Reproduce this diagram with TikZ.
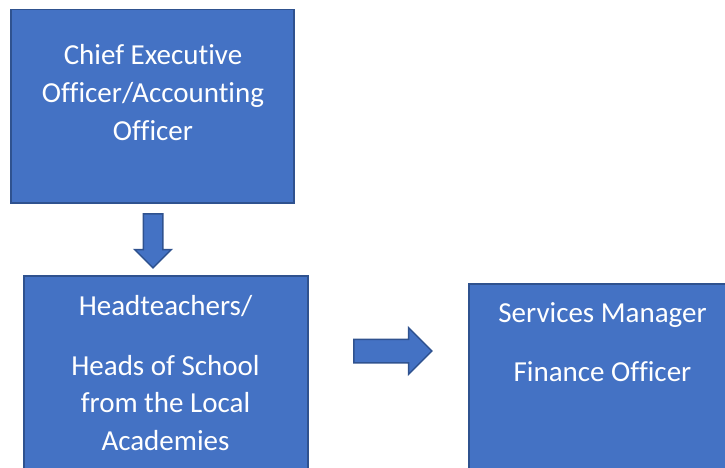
\documentclass[tikz,border=0pt]{standalone}
\usepackage{fontspec}
\setmainfont{Carlito}[Ligatures=NoCommon]
\usepackage{xcolor}
\usepackage{tikz}
\usetikzlibrary{shapes.arrows}
\definecolor{boxblue}{HTML}{4472C4}
\definecolor{edgeblue}{HTML}{2F528F}
\begin{document}
\begin{tikzpicture}[x=1pt, y=-1pt,
    box/.style={rectangle, draw=edgeblue, fill=boxblue, line width=1.5pt, inner sep=0pt, anchor=north west},
    boxtext/.style={text=white, align=center, inner sep=0pt, anchor=base, font=\fontsize{29}{37.5}\selectfont},
    blockarrow/.style={single arrow, draw=edgeblue, fill=boxblue, line width=1.5pt, inner xsep=0pt, single arrow head indent=0pt}]
      \useasboundingbox (0,0) rectangle (725,468);
      \clip (0,0) rectangle (725,468);
      \node[box, minimum width=283pt, minimum height=193pt] (ceo)  at (10,9)    {};
      \node[box, minimum width=284pt, minimum height=220pt] (head) at (23,275)  {};
      \node[box, minimum width=269pt, minimum height=212pt] (svc)  at (468,283) {};
      \node[boxtext] (ceotext)  at (153,140)   {Chief Executive\\Officer/Accounting\\Officer};
      \node[boxtext] (headtext) at (165.5,450) {Headteachers/\\[22.5pt]Heads of School\\from the Local\\Academies};
      \node[boxtext] (svctext)  at (602.5,381) {Services Manager\\[21.5pt]Finance Officer};
      \node[blockarrow, rotate=-90, minimum height=54pt, inner ysep=9pt,
            single arrow head extend=8.5pt]  (down)  at (153,236) {};
      \node[blockarrow, minimum height=78pt, inner ysep=11pt,
            single arrow head extend=11.5pt] (right) at (387,351) {};
    \end{tikzpicture}
\end{document}
